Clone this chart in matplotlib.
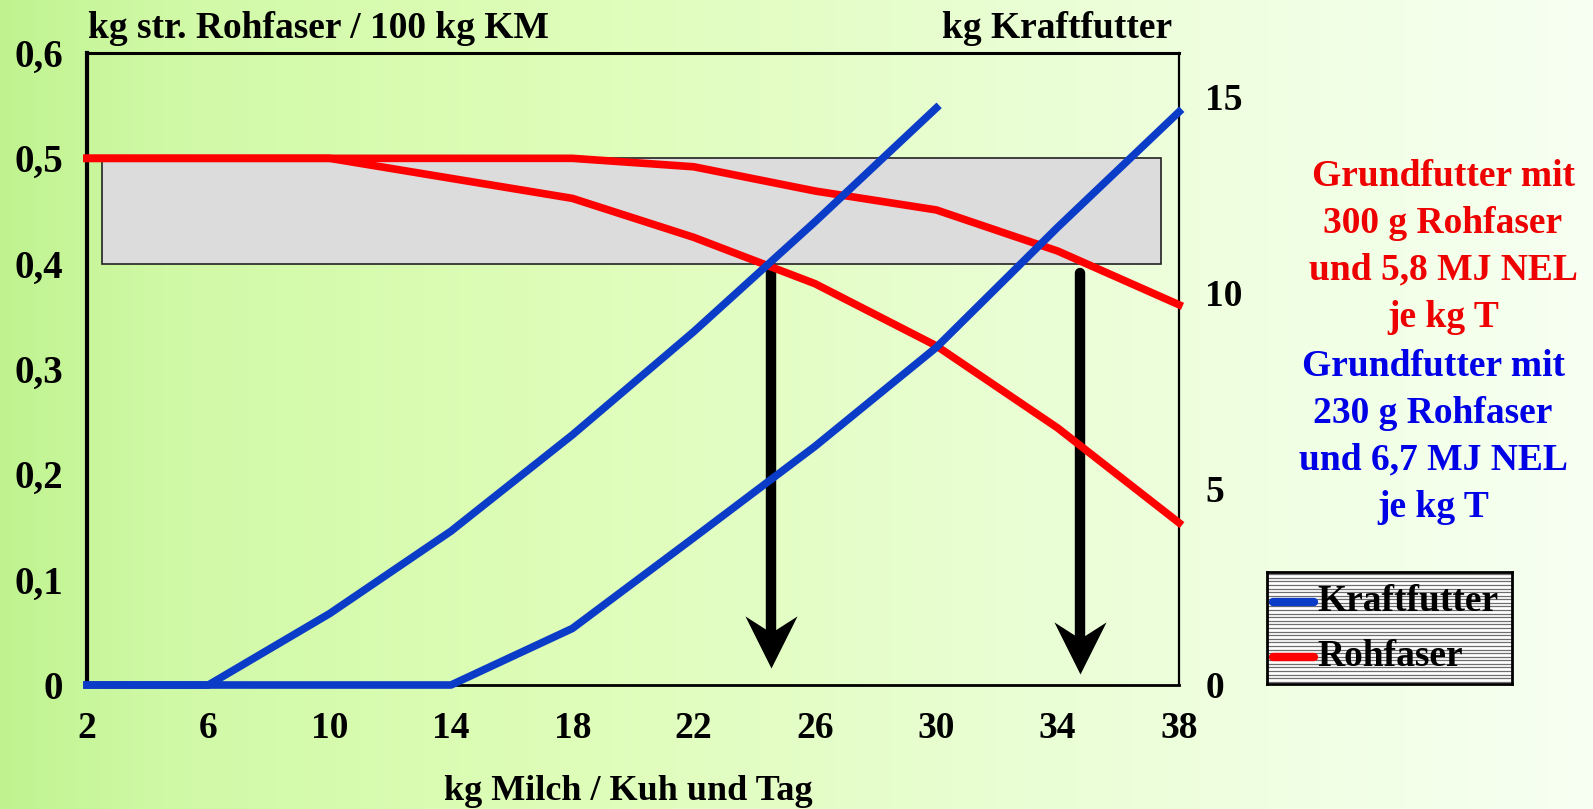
import numpy as np
import matplotlib
matplotlib.use("Agg")
import matplotlib.pyplot as plt
from matplotlib.colors import LinearSegmentedColormap
from matplotlib.patches import Rectangle
from matplotlib.path import Path

plt.rcParams["font.family"] = ["Liberation Serif", "DejaVu Serif"]
plt.rcParams["font.weight"] = "bold"

# kg Milch / Kuh und Tag
milch = [2, 6, 10, 14, 18, 22, 26, 30, 34, 38]
milch_kurz = [2, 6, 10, 14, 18, 22, 26, 30]

# kg str. Rohfaser / 100 kg KM
rohfaser_a = [0.50, 0.50, 0.50, 0.481, 0.462, 0.425, 0.381, 0.322, 0.244, 0.154]
rohfaser_b = [0.50, 0.50, 0.50, 0.50, 0.50, 0.492, 0.469, 0.451, 0.412, 0.361]

# kg Kraftfutter
kraftfutter_a = [0, 0, 1.82, 3.92, 6.37, 9.0, 11.8, 14.7]
kraftfutter_b = [0, 0, 0, 0, 1.44, 3.75, 6.08, 8.6, 11.66, 14.6]

# Zielbereich Rohfaser
band_x = [2.5, 37.4]
band_y = [0.40, 0.50]

# Pfeile: Milchmenge, Start, Spitze
arrow_x = [24.56, 34.75]
arrow_top = [0.397, 0.391]
arrow_tip = [0.016, 0.010]

x_ticks = [2, 6, 10, 14, 18, 22, 26, 30, 34, 38]
y_ticks = [0, 0.1, 0.2, 0.3, 0.4, 0.5, 0.6]
y_labels = ["0", "0,1", "0,2", "0,3", "0,4", "0,5", "0,6"]
y2_ticks = [0, 5, 10, 15]

RED = "#ff0000"
BLUE = "#0a3cc8"
W, H = 1593, 809

fig = plt.figure(figsize=(W / 100, H / 100), dpi=100)

# Hintergrund-Verlauf (grün -> hell)
bg = fig.add_axes([0, 0, 1, 1], zorder=-10)
bg.axis("off")
cmap = LinearSegmentedColormap.from_list("bg", [
    (0.00, (192 / 255, 243 / 255, 144 / 255)),
    (0.10, (208 / 255, 249 / 255, 166 / 255)),
    (0.35, (222 / 255, 253 / 255, 184 / 255)),
    (0.60, (232 / 255, 254 / 255, 208 / 255)),
    (0.80, (240 / 255, 255 / 255, 226 / 255)),
    (1.00, (247 / 255, 255 / 255, 242 / 255)),
])
bg.imshow(np.linspace(0, 1, 512)[None, :], cmap=cmap, aspect="auto",
          extent=[0, 1, 0, 1])
bg.set_xlim(0, 1)
bg.set_ylim(0, 1)

ax = fig.add_axes([87 / W, 1 - 685 / H, (1179 - 87) / W, (685 - 53) / H])
ax.set_facecolor("none")
ax.set_xlim(2, 38)
ax.set_ylim(0, 0.6)

ax.add_patch(Rectangle((band_x[0], band_y[0]), band_x[1] - band_x[0],
                       band_y[1] - band_y[0], facecolor="#dcdcdc",
                       edgecolor="#222222", linewidth=1.2, zorder=1))

# Pfeile
head = Path([(0, 0), (-0.5, 1.0), (0, 0.68), (0.5, 1.0), (0, 0)],
            [Path.MOVETO, Path.LINETO, Path.LINETO, Path.LINETO, Path.CLOSEPOLY])
for xa, yt, yp in zip(arrow_x, arrow_top, arrow_tip):
    ax.plot([xa, xa], [yt, yp + 0.03], color="black", lw=7.5,
            solid_capstyle="round", zorder=2)
    ax.plot([xa], [yp], marker=head, markersize=75, color="black",
            markeredgewidth=0, zorder=2)

line_r, = ax.plot(milch, rohfaser_a, color=RED, lw=5.5, zorder=3,
                  solid_joinstyle="round", clip_on=False)
ax.plot(milch, rohfaser_b, color=RED, lw=5.5, zorder=3,
        solid_joinstyle="round", clip_on=False)

ax.set_xticks(x_ticks)
ax.set_yticks(y_ticks)
ax.set_yticklabels(y_labels)
ax.tick_params(axis="both", length=0, labelsize=28)
ax.tick_params(axis="y", pad=17)
ax.tick_params(axis="x", pad=19, labelsize=27)
for side, lw in (("left", 3.0), ("top", 2.2), ("right", 1.6), ("bottom", 2.0)):
    ax.spines[side].set_linewidth(lw)
    ax.spines[side].set_color("black")

ax2 = ax.twinx()
ax2.set_ylim(0, 16.1)
line_b, = ax2.plot(milch_kurz, kraftfutter_a, color=BLUE, lw=5.5, zorder=4,
                   solid_joinstyle="round", clip_on=False)
ax2.plot(milch, kraftfutter_b, color=BLUE, lw=5.5, zorder=4,
         solid_joinstyle="round", clip_on=False)
ax2.set_yticks(y2_ticks)
ax2.tick_params(axis="y", length=0, labelsize=27, pad=19)
for s in ax2.spines.values():
    s.set_visible(False)

# Achsentitel
fig.text(88 / W, 1 - 38 / H, "kg str. Rohfaser / 100 kg KM", fontsize=27,
         ha="left", va="baseline")
fig.text(1172 / W, 1 - 38 / H, "kg Kraftfutter", fontsize=27,
         ha="right", va="baseline")
fig.text(628 / W, 1 - 800 / H, "kg Milch / Kuh und Tag", fontsize=26,
         ha="center", va="baseline")

# Beschriftung rechts
fig.text(1443 / W, 1 - 247 / H,
         "Grundfutter mit\n300 g Rohfaser\nund 5,8 MJ NEL\nje kg T",
         color="#ee0000", fontsize=27, ha="center", va="center",
         multialignment="center", linespacing=1.44)
fig.text(1433 / W, 1 - 437 / H,
         "Grundfutter mit\n230 g Rohfaser\nund 6,7 MJ NEL\nje kg T",
         color="#0000e6", fontsize=27, ha="center", va="center",
         multialignment="center", linespacing=1.44)

# Legende mit Streifenmuster
lg = fig.add_axes([1267 / W, 1 - 684 / H, 245 / W, 112 / H])
lg.set_xlim(0, 1)
lg.set_ylim(0, 1)
lg.set_facecolor("white")
lg.set_xticks([])
lg.set_yticks([])
lg.hlines(np.linspace(0.02, 0.98, 31), 0, 1, color="#6e6e6e", lw=0.9)
for s in lg.spines.values():
    s.set_linewidth(2.0)
    s.set_color("black")
lg.plot([0.025, 0.19], [0.735, 0.735], color=line_b.get_color(), lw=6,
        solid_capstyle="round")
lg.plot([0.025, 0.19], [0.245, 0.245], color=line_r.get_color(), lw=6,
        solid_capstyle="round")
lg.text(0.205, 0.735, "Kraftfutter", fontsize=27, va="center", ha="left")
lg.text(0.205, 0.245, "Rohfaser", fontsize=27, va="center", ha="left")

fig.savefig("out.png", dpi=100)
